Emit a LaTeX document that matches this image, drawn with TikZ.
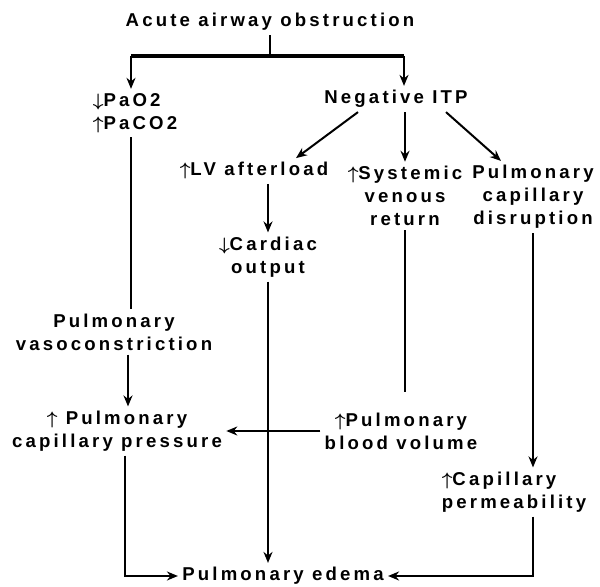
\documentclass[tikz,border=0pt]{standalone}
\usepackage{fontspec}
\usepackage{bm}
\setmainfont{Liberation Sans}[LetterSpace=17]
\usetikzlibrary{arrows.meta}
\def\incr{$\bm{\uparrow}$}
\def\decr{$\bm{\downarrow}$}

\begin{document}
\begin{tikzpicture}[x=0.5pt,y=-0.5pt,
		box/.style={font=\fontsize{9.3}{11.5}\selectfont\bfseries, inner sep=2pt, align=center},
		link/.style={line width=1pt},
		arr/.style={link,-{Stealth[length=5.5pt,width=4.5pt]}}]
				\useasboundingbox (0,0) rectangle (600,587);
				
				\node[box] (title) at (270,22) {Acute airway obstruction};
				\node[box, align=left] (gas) at (135,113) {\decr PaO2\\\incr PaCO2};
				\node[box] (itp) at (396,99) {Negative ITP};
				
				\node[box] (lv) at (254,171) {\incr LV afterload};
				\node[box] (sys) at (405,196) {\incr Systemic\\venous\\return};
				\node[box] (disr) at (533,197) {Pulmonary\\capillary\\disruption};
				\node[box] (cardiac) at (268,257) {\decr Cardiac\\output};
				
				\node[box] (vaso) at (114,332) {Pulmonary\\vasoconstriction};
				\node[box] (pcp) at (117,431) {\incr\ Pulmonary\\capillary pressure};
				\node[box] (pbv) at (401,431) {\incr Pulmonary\\blood volume};
				\node[box, align=left] (perm) at (514,492) {\incr Capillary\\permeability};
				\node[box] (edema) at (283,576) {Pulmonary edema};
				
				\coordinate (junc) at (270,56);
				\coordinate (barL) at (131,56);
				\coordinate (barR) at (404,56);
				
				\draw[link] (title) -- (junc);
				\draw[line width=1.6pt] (barL) -- (barR);
				\draw[arr] (barL) -- (barL |- gas.north);
				\draw[arr] (barR) -- (barR |- itp.north);
				
				\draw[arr] ([xshift=-19pt]itp.south) -- ([xshift=21pt]lv.north);
				\draw[arr] (sys.north |- itp.south) -- (sys.north);
				\draw[arr] ([xshift=25pt]itp.south) -- ([xshift=-16pt]disr.north);
				
				\draw[arr] (lv.south -| cardiac.north) -- (cardiac.north);
				\draw[arr] (cardiac.south) -- (cardiac.south |- edema.north);
				\draw[link, shorten >=8pt] (sys.south) -- (sys.south |- pbv.north);
				\draw[arr] (disr.south) -- (disr.south |- perm.north);
				
				\draw[link] ([xshift=-2pt]gas.south) -- ([xshift=-2pt]gas.south |- vaso.north);
				\draw[arr] ([xshift=7pt]vaso.south) -- ([xshift=7pt]vaso.south |- pcp.north);
				\draw[arr] (pbv.west) -- (pcp.east);
				
				\draw[arr] ([xshift=4pt]pcp.south) |- (edema.west);
				\draw[arr] (disr.south |- perm.south) |- (edema.east);
\end{tikzpicture}
\end{document}
